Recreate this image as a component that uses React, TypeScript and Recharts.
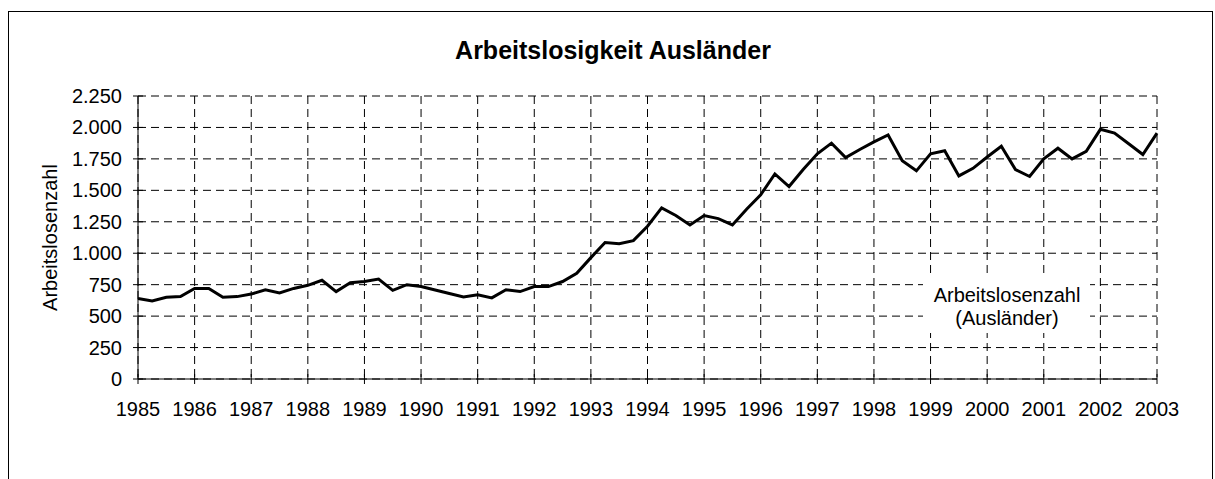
import { CartesianGrid, Line, LineChart, XAxis, YAxis } from "recharts";

// quarterly values, 1985 Q1 ... 2003 Q1
const START_YEAR = 1985;
const arbeitslose = [
  640, 620, 650, 655, // 1985
  720, 720, 650, 655, // 1986
  675, 710, 685, 720, // 1987
  745, 785, 695, 765, // 1988
  775, 795, 705, 750, // 1989
  735, 708, 680, 652, // 1990
  670, 645, 710, 695, // 1991
  735, 735, 775, 840, // 1992
  965, 1085, 1075, 1100, // 1993
  1215, 1360, 1300, 1225, // 1994
  1300, 1275, 1225, 1350, // 1995
  1465, 1630, 1530, 1665, // 1996
  1790, 1875, 1760, 1825, // 1997
  1885, 1940, 1735, 1655, // 1998
  1790, 1815, 1615, 1675, // 1999
  1765, 1850, 1665, 1610, // 2000
  1750, 1835, 1750, 1810, // 2001
  1985, 1955, 1870, 1785, // 2002
  1955, // 2003
];

const yearTicks = [
  1985, 1986, 1987, 1988, 1989, 1990, 1991, 1992, 1993, 1994, 1995, 1996, 1997,
  1998, 1999, 2000, 2001, 2002, 2003,
];
const valueTicks = [0, 250, 500, 750, 1000, 1250, 1500, 1750, 2000, 2250];

const TITLE = "Arbeitslosigkeit Ausländer";
const Y_LABEL = "Arbeitslosenzahl";
const NOTE = ["Arbeitslosenzahl", "(Ausländer)"];

const rows = arbeitslose.map((v, i) => ({ t: START_YEAR + i / 4, v }));

const W = 1215;
const H = 479;
const PLOT_LEFT = 138;
const PLOT_RIGHT = 1157;
const PLOT_TOP = 96;
const PLOT_BOTTOM = 379;
const FONT = "'Liberation Sans', Arial, sans-serif";

const fmt = (n: number) => String(n).replace(/\B(?=(\d{3})+(?!\d))/g, ".");

function XTick(props: any) {
  const x = props.payload.coordinate;
  return (
    <g>
      <line x1={x} x2={x} y1={PLOT_BOTTOM - 5} y2={PLOT_BOTTOM + 5} stroke="#000" />
      <text x={x} y={416} textAnchor="middle" fontSize={20} fontFamily={FONT} fill="#000">
        {props.payload.value}
      </text>
    </g>
  );
}

function YTick(props: any) {
  const y = props.payload.coordinate;
  return (
    <g>
      <line x1={PLOT_LEFT - 5} x2={PLOT_LEFT + 5} y1={y} y2={y} stroke="#000" />
      <text x={122} y={y + 7} textAnchor="end" fontSize={20} fontFamily={FONT} fill="#000">
        {fmt(props.payload.value)}
      </text>
    </g>
  );
}

export default function App() {
  return (
    <div
      style={{
        position: "absolute",
        left: 0,
        top: 0,
        width: W,
        height: H,
        overflow: "hidden",
        background: "#fff",
      }}
    >
      <div
        style={{
          position: "absolute",
          left: 8,
          top: 11,
          width: 1203,
          height: 600,
          border: "1px solid #000",
        }}
      />
      <div style={{ position: "absolute", left: 0, top: 0 }}>
        <LineChart
          width={W}
          height={H}
          data={rows}
          margin={{ top: PLOT_TOP, right: W - PLOT_RIGHT, bottom: H - PLOT_BOTTOM - 40, left: 0 }}
        >
          <CartesianGrid stroke="#000" strokeDasharray="8 5" />
          <XAxis
            dataKey="t"
            type="number"
            domain={[1985, 2003]}
            ticks={yearTicks}
            interval={0}
            height={40}
            tickLine={false}
            axisLine={{ stroke: "#000" }}
            tick={<XTick />}
          />
          <YAxis
            type="number"
            domain={[0, 2250]}
            ticks={valueTicks}
            interval={0}
            width={PLOT_LEFT}
            tickLine={false}
            axisLine={{ stroke: "#000" }}
            tick={<YTick />}
          />
          <Line
            type="linear"
            dataKey="v"
            stroke="#000"
            strokeWidth={3}
            dot={false}
            isAnimationActive={false}
          />
        </LineChart>
      </div>
      <svg
        width={W}
        height={H}
        style={{ position: "absolute", left: 0, top: 0, pointerEvents: "none" }}
      >
        <text x={613} y={59} textAnchor="middle" fontSize={25} fontWeight="bold" fontFamily={FONT}>
          {TITLE}
        </text>
        <text
          x={57}
          y={(PLOT_TOP + PLOT_BOTTOM) / 2}
          transform={`rotate(-90 57 ${(PLOT_TOP + PLOT_BOTTOM) / 2})`}
          textAnchor="middle"
          fontSize={20}
          fontFamily={FONT}
        >
          {Y_LABEL}
        </text>
        <rect x={923} y={273} width={167} height={60} fill="#fff" />
        <text x={1007} y={302} textAnchor="middle" fontSize={20} fontFamily={FONT}>
          {NOTE[0]}
        </text>
        <text x={1007} y={325} textAnchor="middle" fontSize={20} fontFamily={FONT}>
          {NOTE[1]}
        </text>
      </svg>
    </div>
  );
}
